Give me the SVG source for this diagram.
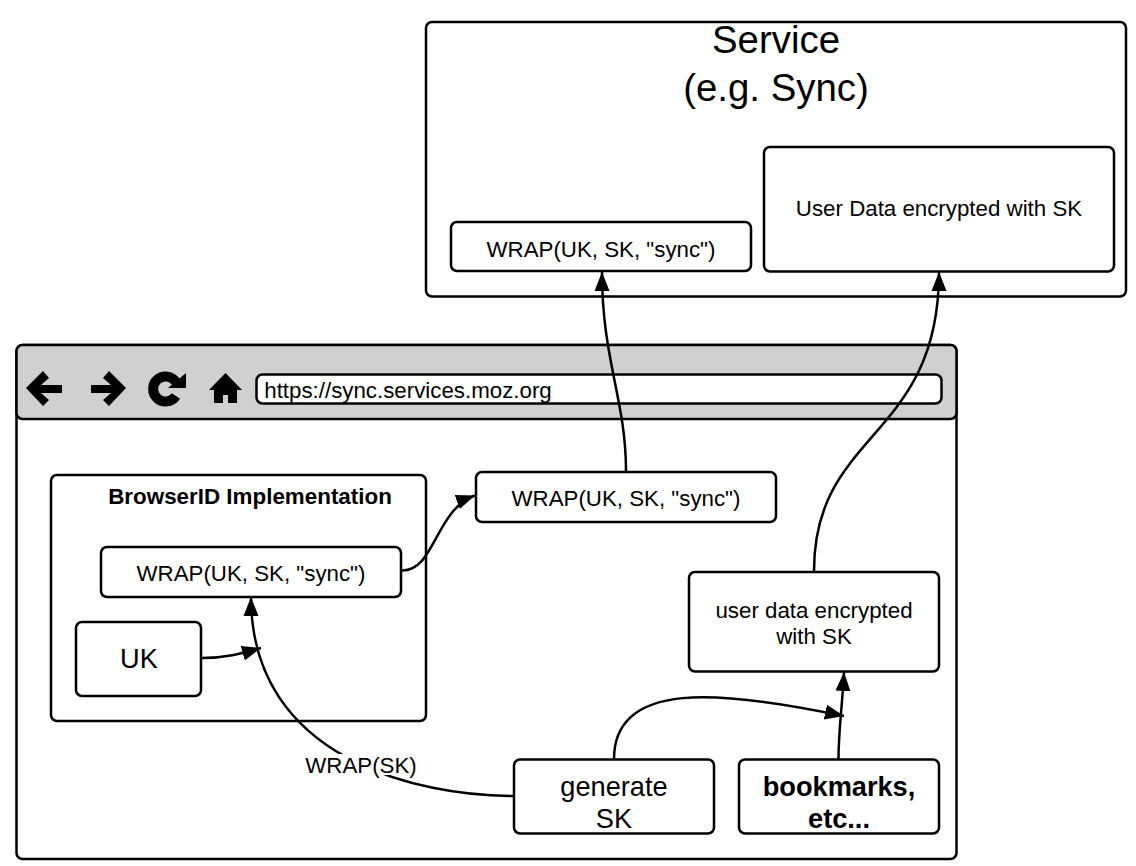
<svg xmlns="http://www.w3.org/2000/svg" width="1136" height="866" viewBox="0 0 1136 866">
<style>
rect{fill:#fff;stroke:#000;stroke-width:2.5}
text{font-family:"Liberation Sans",Arial,sans-serif;fill:#000;text-anchor:middle}
.s{font-size:22.3px}.m{font-size:27.2px}.l{font-size:38.4px}
.c{fill:none;stroke:#000;stroke-width:2.5}
.i{fill:#000;stroke:none}
</style>
<defs><marker id="a" markerUnits="userSpaceOnUse" markerWidth="21" markerHeight="17" refX="19" refY="8" orient="auto"><path d="M0 0.500L19 8L0 15.500Z" fill="#000"/></marker></defs>
<g id="service"><rect x="426" y="22" width="700" height="274.500" rx="6"/><text class="l" x="776" y="52.500">Service</text><text class="l" x="776" y="100.500">(e.g. Sync)</text></g>
<g id="service-wrap"><rect x="451" y="222" width="300" height="49" rx="6"/><text class="s" x="601" y="256.500">WRAP(UK, SK, "sync")</text></g>
<g id="service-data"><rect x="764" y="147" width="350" height="124.500" rx="6"/><text class="s" x="939" y="215.500">User Data encrypted with SK</text></g>
<g id="browser"><rect x="16.500" y="345" width="940" height="514" rx="6"/></g>
<g id="toolbar"><rect x="16.500" y="345" width="940" height="74" rx="6" style="fill:#d0d0d0"/>
<path class="i" d="M26 388L43 371L49 378L41 385H62V393H41L49 400L43 406Z"/>
<path class="i" d="M126 388L109 371L103 378L111 385H91V393H111L103 400L109 406Z"/>
<path d="M176 382A12.500 12.500 0 1 0 176 396" fill="none" stroke="#000" stroke-width="10"/>
<path class="i" d="M186 373V388H168Z"/>
<path class="i" d="M225.500 373L242 390H237V403H228V395H223V403H214V390H209Z"/>
<rect x="256.500" y="374.500" width="685" height="29" rx="6"/><text class="s" x="408" y="397.500">https://sync.services.moz.org</text></g>
<g id="browserid"><rect x="51" y="475" width="375" height="246" rx="6"/><text x="250" y="503.500" font-size="22.400" font-weight="bold">BrowserID Implementation</text></g>
<g id="inner-wrap"><rect x="101" y="547" width="300" height="50" rx="6"/><text class="s" x="251" y="580.500">WRAP(UK, SK, "sync")</text></g>
<g id="uk"><rect x="76" y="622" width="125" height="74" rx="6"/><text class="m" x="139" y="667.500">UK</text></g>
<g id="outer-wrap"><rect x="476" y="472" width="300" height="50" rx="6"/><text class="s" x="626" y="505.500">WRAP(UK, SK, "sync")</text></g>
<g id="user-data"><rect x="689" y="572" width="250" height="99.500" rx="6"/><text class="s" x="814" y="617.500">user data encrypted</text><text class="s" x="814" y="643.500">with SK</text></g>
<g id="generate"><rect x="514" y="759.500" width="200" height="74" rx="6"/><text class="m" x="614" y="795.500">generate</text><text class="m" x="614" y="827.500">SK</text></g>
<g id="bookmarks"><rect x="739" y="759.500" width="200" height="74" rx="6"/><text class="m" x="839" y="795.500" font-weight="bold">bookmarks,</text><text class="m" x="839" y="827.500" font-weight="bold">etc...</text></g>
<g id="connectors">
<path class="c" marker-end="url(#a)" d="M626 471C626 400 602 360 602 272"/>
<path class="c" marker-end="url(#a)" d="M814 571C814 430 939 440 939 272"/>
<path class="c" marker-end="url(#a)" d="M402 570.500C435 571 435 510 475 495.500"/>
<path class="c" marker-end="url(#a)" d="M202 658C225 658 240 654 261 648"/>
<path class="c" marker-end="url(#a)" d="M513 796C420 796 251 760 251 597"/>
<path class="c" marker-end="url(#a)" d="M614 759C614 680 720 690 844 716"/>
<path class="c" marker-end="url(#a)" d="M838.500 759C838.500 730 842 710 844 672"/>
</g>
<rect x="306" y="754" width="110" height="21" style="stroke:none"/>
<text id="label" class="s" x="361" y="772.500">WRAP(SK)</text>
</svg>
